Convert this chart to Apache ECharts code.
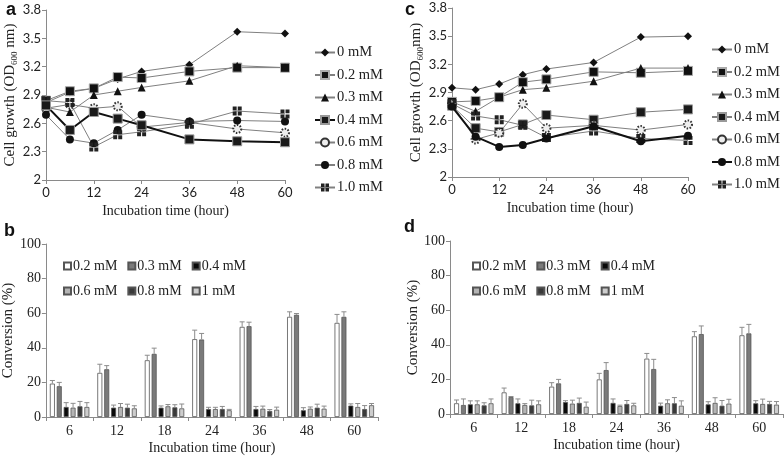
<!DOCTYPE html>
<html><head><meta charset="utf-8">
<script src="https://cdn.jsdelivr.net/npm/echarts@6/dist/echarts.min.js"></script>
<style>html,body{margin:0;padding:0;background:#fff}#c{width:784px;height:456px}</style>
</head><body><div id="c"></div>
<script>
// ---------- data ----------
const times = [0, 6, 12, 18, 24, 36, 48, 60];
const lineNames = ['0 mM', '0.2 mM', '0.3 mM', '0.4 mM', '0.6 mM', '0.8 mM', '1.0 mM'];
const growthTicks = [2, 2.3, 2.6, 2.9, 3.2, 3.5, 3.8];

// panel a (cell growth)
const a_0mM  = [2.82, 2.93, 2.97, 3.07, 3.15, 3.22, 3.57, 3.55];
const a_02mM = [2.84, 2.94, 2.97, 3.09, 3.08, 3.15, 3.19, 3.19];
const a_03mM = [2.77, 2.72, 2.90, 2.94, 2.98, 3.05, 3.21, 3.19];
const a_04mM = [2.79, 2.53, 2.72, 2.65, 2.58, 2.43, 2.41, 2.40];
const a_06mM = [2.76, 2.80, 2.76, 2.78, 2.56, 2.61, 2.54, 2.50];
const a_08mM = [2.69, 2.43, 2.39, 2.53, 2.69, 2.62, 2.63, 2.62];
const a_10mM = [2.84, 2.82, 2.35, 2.48, 2.51, 2.59, 2.73, 2.70];

// panel c (cell growth)
const c_0mM  = [2.95, 2.93, 2.99, 3.09, 3.15, 3.22, 3.49, 3.50];
const c_02mM = [2.80, 2.81, 2.85, 3.01, 3.04, 3.12, 3.11, 3.13];
const c_03mM = [2.80, 2.70, 2.85, 2.93, 2.95, 3.02, 3.16, 3.16];
const c_04mM = [2.76, 2.52, 2.48, 2.56, 2.66, 2.61, 2.69, 2.72];
const c_06mM = [2.78, 2.40, 2.47, 2.78, 2.52, 2.55, 2.50, 2.56];
const c_08mM = [2.75, 2.43, 2.32, 2.34, 2.41, 2.54, 2.38, 2.44];
const c_10mM = [2.78, 2.65, 2.61, 2.55, 2.42, 2.49, 2.41, 2.39];

// conversion bars
const barCats = ['6', '12', '18', '24', '36', '48', '60'];
const barNames = ['0.2 mM', '0.3 mM', '0.4 mM', '0.6 mM', '0.8 mM', '1 mM'];

// panel b
const b_02 = [19.3, 25.5, 32.8, 45.0, 52.1, 57.9, 54.4];
const b_03 = [17.8, 27.6, 36.5, 44.8, 52.5, 59.1, 57.9];
const b_04 = [5.8, 5.4, 5.4, 4.6, 4.6, 3.9, 6.6];
const b_06 = [5.4, 5.8, 6.2, 4.6, 4.8, 4.8, 5.8];
const b_08 = [6.2, 5.4, 5.6, 4.6, 3.5, 5.4, 4.6];
const b_10 = [5.8, 5.0, 5.0, 3.9, 4.2, 4.8, 6.8];
const b_02_err = [1.8, 5.0, 2.9, 5.2, 2.9, 2.9, 4.9];
const b_03_err = [2.2, 2.1, 3.3, 3.5, 2.3, 0.7, 2.9];
const b_04_err = [2.5, 1.5, 1.0, 1.0, 1.5, 1.5, 1.0];
const b_06_err = [2.5, 2.0, 1.0, 1.0, 1.5, 1.0, 2.0];
const b_08_err = [2.8, 2.0, 1.5, 1.5, 0.8, 2.0, 2.0];
const b_10_err = [2.5, 1.5, 2.5, 0.5, 1.5, 1.5, 1.0];

// panel d
const d_02 = [6.2, 12.5, 15.8, 20.0, 32.0, 44.9, 45.5];
const d_03 = [5.2, 9.8, 17.7, 25.4, 26.0, 46.2, 46.6];
const d_04 = [5.6, 6.2, 6.9, 6.4, 4.8, 5.6, 6.2];
const d_06 = [5.6, 5.2, 6.0, 4.6, 6.2, 6.4, 5.8];
const d_08 = [5.0, 5.0, 6.4, 5.8, 6.2, 4.8, 5.8];
const d_10 = [6.2, 5.6, 4.2, 5.0, 4.8, 6.0, 5.4];
const d_02_err = [1.9, 2.5, 2.3, 3.5, 3.0, 2.7, 4.6];
const d_03_err = [3.5, 0.3, 2.3, 4.3, 5.6, 4.7, 5.2];
const d_04_err = [2.0, 2.5, 0.8, 2.3, 1.5, 1.5, 1.5];
const d_06_err = [2.0, 0.8, 2.0, 0.5, 2.0, 3.0, 2.8];
const d_08_err = [1.5, 3.0, 2.8, 2.0, 3.3, 3.0, 1.5];
const d_10_err = [2.5, 2.0, 2.7, 1.2, 2.8, 2.5, 1.8];

// ---------- styles ----------
const SERIF = 'Liberation Serif';
const SANS = 'Lato';
const AXIS_C = '#8a8a8a';
const TXT = '#222';
const fourSquares = 'path://M0,0h4.4v4.4h-4.4z M5.6,0h4.4v4.4h-4.4z M0,5.6h4.4v4.4h-4.4z M5.6,5.6h4.4v4.4h-4.4z';

const aData = [a_0mM, a_02mM, a_03mM, a_04mM, a_06mM, a_08mM, a_10mM];
const cData = [c_0mM, c_02mM, c_03mM, c_04mM, c_06mM, c_08mM, c_10mM];
const bData = [b_02, b_03, b_04, b_06, b_08, b_10];
const bErr = [b_02_err, b_03_err, b_04_err, b_06_err, b_08_err, b_10_err];
const dData = [d_02, d_03, d_04, d_06, d_08, d_10];
const dErr = [d_02_err, d_03_err, d_04_err, d_06_err, d_08_err, d_10_err];

const symbolStyles = [
  {symbol: 'diamond', size: 8, item: {color: '#111'}},
  {symbol: 'rect', size: 9, item: {color: '#111', borderColor: '#aaa', borderWidth: 1}},
  {symbol: 'triangle', size: 8, item: {color: '#111'}},
  {symbol: 'rect', size: 9, item: {color: '#1a1a1a', borderColor: '#999', borderWidth: 1}},
  {symbol: 'circle', size: 8, item: {color: '#eee', borderColor: '#333', borderWidth: 2, borderType: [1.5, 1.5]}},
  {symbol: 'circle', size: 8, item: {color: '#111'}},
  {symbol: fourSquares, size: 9, item: {color: '#222'}}
];

function lineSeries(prefix, data, axisIdx, thickIdx) {
  return lineNames.map((n, i) => ({
    type: 'line', name: prefix + '|' + n,
    xAxisIndex: axisIdx, yAxisIndex: axisIdx,
    data: times.map((t, j) => [t, data[i][j]]),
    symbol: symbolStyles[i].symbol, symbolSize: symbolStyles[i].size,
    itemStyle: symbolStyles[i].item,
    lineStyle: i === thickIdx ? {color: '#111', width: 2} : {color: '#808080', width: 1},
    z: i === thickIdx ? 3 : 2
  }));
}

const barColors = ['#ffffff', '#7a7a7a', '#0a0a0a', '#b4b4b4', '#3a3a3a', '#cdcdcd'];
const BAR_W = 5, BAR_GAP = 0.38;
function barSeries(prefix, data, errs, axisIdx) {
  const out = [];
  const n = barNames.length;
  const total = n * BAR_W + (n - 1) * BAR_W * BAR_GAP;
  barNames.forEach((name, k) => {
    out.push({
      type: 'bar', name: prefix + '|' + name,
      xAxisIndex: axisIdx, yAxisIndex: axisIdx,
      data: data[k], barWidth: BAR_W, barGap: (BAR_GAP * 100) + '%',
      itemStyle: {color: barColors[k], borderColor: '#555', borderWidth: 0.8}
    });
  });
  barNames.forEach((name, k) => {
    const off = -total / 2 + BAR_W / 2 + k * BAR_W * (1 + BAR_GAP);
    out.push({
      type: 'custom', name: prefix + '|err' + k,
      xAxisIndex: axisIdx, yAxisIndex: axisIdx, z: 5,
      data: data[k].map((v, j) => [j, v, errs[k][j]]),
      encode: {x: 0, y: 1},
      renderItem: function (params, api) {
        const i = api.value(0), v = api.value(1), e = api.value(2);
        const p0 = api.coord([i, v]);
        const p1 = api.coord([i, v + e]);
        const x = p0[0] + off;
        return {type: 'group', children: [
          {type: 'line', shape: {x1: x, y1: p0[1], x2: x, y2: p1[1]}, style: {stroke: '#8c8c8c', lineWidth: 1}},
          {type: 'line', shape: {x1: x - 2.5, y1: p1[1], x2: x + 2.5, y2: p1[1]}, style: {stroke: '#8c8c8c', lineWidth: 1}}
        ]};
      }
    });
  });
  return out;
}

function lineX(idx) {
  return {
    type: 'value', gridIndex: idx, min: 0, max: 60, interval: 12,
    axisLine: {show: true, lineStyle: {color: AXIS_C}},
    axisTick: {show: true, length: 4, lineStyle: {color: AXIS_C}},
    splitLine: {show: false},
    axisLabel: {fontFamily: SANS, fontSize: 13, color: TXT, margin: 6},
    name: 'Incubation time (hour)', nameLocation: 'middle', nameGap: 24,
    nameTextStyle: {fontFamily: SERIF, fontSize: 14, color: TXT}
  };
}
function lineY(idx, name) {
  return {
    type: 'value', gridIndex: idx, min: growthTicks[0], max: growthTicks[growthTicks.length - 1],
    interval: 0.3,
    axisLine: {show: true, lineStyle: {color: AXIS_C}},
    axisTick: {show: true, length: 4, lineStyle: {color: AXIS_C}},
    splitLine: {show: false},
    axisLabel: {fontFamily: SANS, fontSize: 13, color: TXT, margin: 5},
    name: name, nameLocation: 'middle', nameGap: 27, nameRotate: 90,
    nameTextStyle: {
      rich: {
        n: {fontFamily: SERIF, fontSize: 15, color: TXT, lineHeight: 18},
        s: {fontFamily: SERIF, fontSize: 9, color: TXT, lineHeight: 10, verticalAlign: 'bottom'}
      }
    }
  };
}
function barX(idx) {
  return {
    type: 'category', gridIndex: idx, data: barCats,
    axisLine: {show: true, lineStyle: {color: AXIS_C}},
    axisTick: {show: true, length: 4, lineStyle: {color: AXIS_C}},
    axisLabel: {fontFamily: SERIF, fontSize: 14, color: TXT, margin: 7},
    name: 'Incubation time (hour)', nameLocation: 'middle', nameGap: 24,
    nameTextStyle: {fontFamily: SERIF, fontSize: 14, color: TXT}
  };
}
function barY(idx) {
  return {
    type: 'value', gridIndex: idx, min: 0, max: 100, interval: 20,
    axisLine: {show: true, lineStyle: {color: AXIS_C}},
    axisTick: {show: true, length: 4, lineStyle: {color: AXIS_C}},
    splitLine: {show: false},
    axisLabel: {fontFamily: SERIF, fontSize: 14, color: TXT, margin: 5},
    name: 'Conversion (%)', nameLocation: 'middle', nameGap: 29, nameRotate: 90,
    nameTextStyle: {fontFamily: SERIF, fontSize: 15, color: TXT}
  };
}

function lineLegend(prefix, left, top) {
  return {
    orient: 'vertical', left: left, top: top, padding: 0,
    itemWidth: 20, itemHeight: 10, itemGap: 7.5,
    data: lineNames.map(n => prefix + '|' + n),
    formatter: name => name.split('|')[1],
    textStyle: {fontFamily: SERIF, fontSize: 14.5, color: TXT, padding: [0, 0, 0, -3]}
  };
}
function barLegend(prefix, names, left, top) {
  return {
    orient: 'horizontal', left: left, top: top, padding: 0,
    itemWidth: 7, itemHeight: 7, itemGap: 10,
    icon: 'rect',
    data: names.map(n => prefix + '|' + n),
    formatter: name => name.split('|')[1],
    textStyle: {fontFamily: SERIF, fontSize: 14, color: TXT, padding: [0, 0, 0, -3]}
  };
}

const option = {
  animation: false,
  backgroundColor: '#fff',
  grid: [
    {left: 46, top: 10, width: 239, height: 170},
    {left: 452, top: 8, width: 236, height: 169},
    {left: 43, top: 244, width: 335, height: 173},
    {left: 450, top: 241, width: 333, height: 173}
  ],
  xAxis: [lineX(0), lineX(1), barX(2), barX(3)],
  yAxis: [
    lineY(0, '{n|Cell growth (OD}{s|600}{n| nm)}'),
    lineY(1, '{n|Cell growth (OD}{s|600}{n|nm)}'),
    barY(2), barY(3)
  ],
  legend: [
    lineLegend('a', 314, 45),
    lineLegend('c', 711, 42),
    barLegend('b', barNames.slice(0, 3), 63, 259),
    barLegend('b', barNames.slice(3), 63, 284),
    barLegend('d', barNames.slice(0, 3), 472, 259),
    barLegend('d', barNames.slice(3), 472, 284)
  ],
  graphic: [
    {type: 'text', left: 6, top: 1, style: {text: 'a', font: 'bold 18px "Liberation Sans"', fill: '#111'}},
    {type: 'text', left: 405, top: 1, style: {text: 'c', font: 'bold 18px "Liberation Sans"', fill: '#111'}},
    {type: 'text', left: 4, top: 222, style: {text: 'b', font: 'bold 18px "Liberation Sans"', fill: '#111'}},
    {type: 'text', left: 404, top: 218, style: {text: 'd', font: 'bold 18px "Liberation Sans"', fill: '#111'}}
  ],
  series: [].concat(
    lineSeries('a', aData, 0, 3),
    lineSeries('c', cData, 1, 5),
    barSeries('b', bData, bErr, 2),
    barSeries('d', dData, dErr, 3)
  )
};
const chart = echarts.init(document.getElementById('c'), null, {renderer: 'canvas'});
chart.setOption(option);
</script></body></html>
